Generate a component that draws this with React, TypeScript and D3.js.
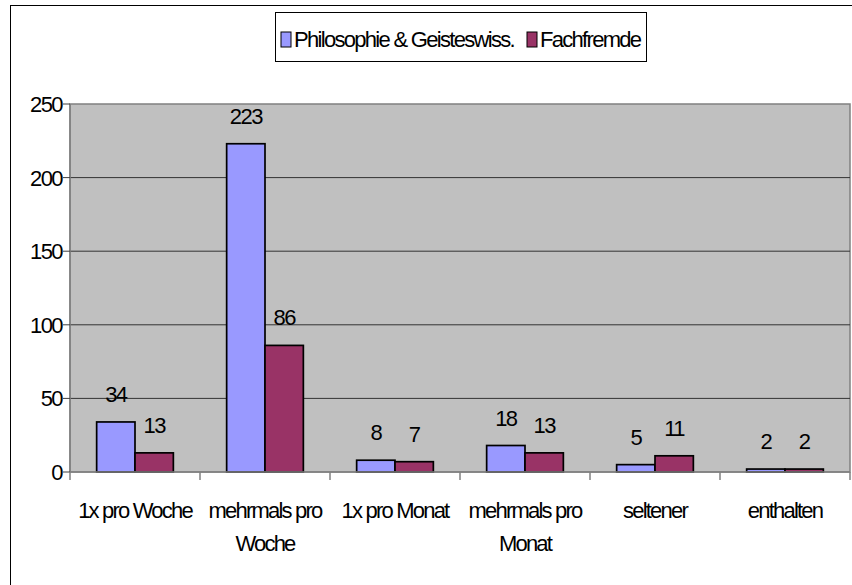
import React from 'react';
import * as d3 from 'd3';

// chart data
const categories = ['1x pro Woche', 'mehrmals pro\nWoche', '1x pro Monat', 'mehrmals pro\nMonat', 'seltener', 'enthalten'];
const seriesNames = ['Philosophie & Geisteswiss.', 'Fachfremde'];
const philosophie = [34, 223, 8, 18, 5, 2];
const fachfremde = [13, 86, 7, 13, 11, 2];
const yTicks = [0, 50, 100, 150, 200, 250];

const colors = ['#9999FF', '#993366'];
const font = '"Liberation Sans", Arial, sans-serif';

const App = () => {
  const width = 852;
  const height = 585;
  // plot area
  const left = 70, right = 850, top = 104, bottom = 472;

  const x = d3.scaleBand<string>()
    .domain(categories)
    .range([left, right])
    .paddingInner(0)
    .paddingOuter(0);

  const groupW = x.bandwidth() * 0.59;
  const xSeries = d3.scaleBand<number>()
    .domain([0, 1])
    .range([(x.bandwidth() - groupW) / 2, (x.bandwidth() + groupW) / 2]);

  const y = d3.scaleLinear().domain([0, 250]).range([bottom, top]);

  const series = [philosophie, fachfremde];

  return (
    <svg width={width} height={height} style={{ position: 'absolute', left: 0, top: 0 }}
      fontFamily={font}>
      <rect x={0} y={0} width={width} height={height} fill="#fff" />
      {/* outer chart border */}
      <rect x={10.5} y={5.5} width={900} height={700} fill="none" stroke="#000" strokeWidth={1} />

      {/* plot area */}
      <rect x={left} y={top} width={right - left} height={bottom - top} fill="#C0C0C0" stroke="#808080" strokeWidth={1.5} />

      {/* gridlines */}
      {yTicks.filter(t => t > 0 && t < 250).map(t => (
        <line key={t} x1={left} x2={right} y1={y(t)} y2={y(t)} stroke="#333" strokeWidth={1} />
      ))}

      {/* bars */}
      {categories.map((c, i) => (
        <g key={c} transform={`translate(${x(c)},0)`}>
          {series.map((s, j) => (
            <rect key={j}
              x={xSeries(j)} y={y(s[i])}
              width={xSeries.bandwidth()} height={bottom - y(s[i])}
              fill={colors[j]} stroke="#000" strokeWidth={1.7} />
          ))}
          {series.map((s, j) => (
            <text key={'l' + j}
              x={(xSeries(j) ?? 0) + xSeries.bandwidth() / 2}
              y={y(s[i]) - 20}
              textAnchor="middle" fontSize={22} letterSpacing={-1.6} fill="#000">
              {s[i]}
            </text>
          ))}
        </g>
      ))}

      {/* y axis */}
      <line x1={left} x2={left} y1={top} y2={bottom} stroke="#808080" strokeWidth={1.5} />
      {yTicks.map(t => (
        <g key={t}>
          <line x1={left - 7} x2={left} y1={y(t)} y2={y(t)} stroke="#404040" strokeWidth={1} />
          <text x={left - 8} y={y(t) + 8} textAnchor="end" fontSize={22} letterSpacing={-1.6} fill="#000">{t}</text>
        </g>
      ))}

      {/* x axis */}
      <line x1={left} x2={right} y1={bottom} y2={bottom} stroke="#808080" strokeWidth={1.5} />
      {d3.range(categories.length + 1).map(k => {
        const xx = left + k * x.step();
        return <line key={k} x1={xx} x2={xx} y1={bottom} y2={bottom + 8} stroke="#808080" strokeWidth={1.5} />;
      })}
      {categories.map(c => (
        <text key={c} x={(x(c) ?? 0) + x.bandwidth() / 2} textAnchor="middle" fontSize={22} letterSpacing={-1.8} fill="#000">
          {c.split('\n').map((line, li) => (
            <tspan key={li} x={(x(c) ?? 0) + x.bandwidth() / 2} y={518 + li * 33}>{line}</tspan>
          ))}
        </text>
      ))}

      {/* legend */}
      <rect x={275.5} y={12.5} width={371} height={49} fill="#fff" stroke="#000" strokeWidth={1} />
      <rect x={281} y={32} width={10} height={15} fill={colors[0]} stroke="#000" strokeWidth={1} />
      <text x={294} y={47} fontSize={22} letterSpacing={-1.7} fill="#000">{seriesNames[0]}</text>
      <rect x={527} y={32} width={10} height={15} fill={colors[1]} stroke="#000" strokeWidth={1} />
      <text x={540} y={47} fontSize={22} letterSpacing={-1.7} fill="#000">{seriesNames[1]}</text>
    </svg>
  );
};

export default App;
